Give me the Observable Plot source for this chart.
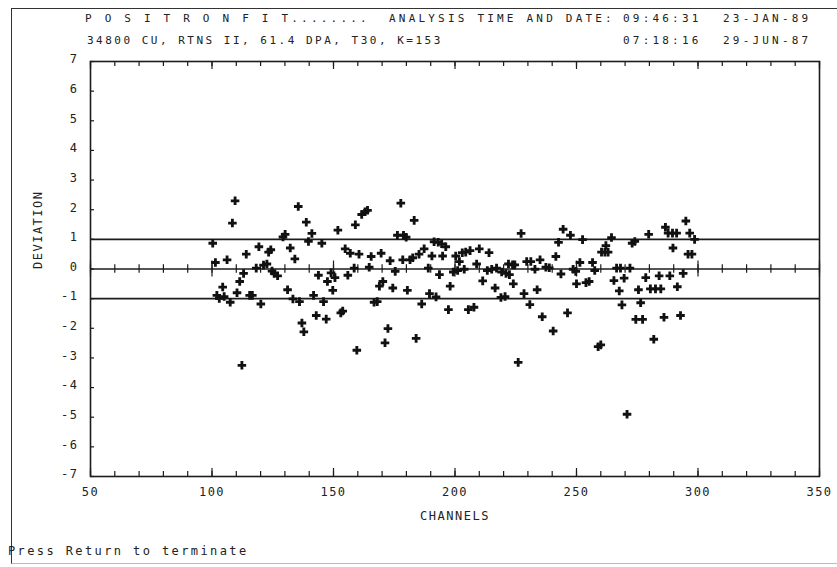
<!DOCTYPE html>
<html><head><meta charset="utf-8">
<script src="https://cdn.jsdelivr.net/npm/d3@7"></script>
<script src="https://cdn.jsdelivr.net/npm/@observablehq/plot@0.6"></script>
<style>
html,body{margin:0;padding:0;background:#fff;}
#wrap{position:relative;width:837px;height:567px;overflow:hidden;background:#fff;font-family:"DejaVu Sans Mono",monospace;color:#222;}
#box{position:absolute;left:11px;top:8px;width:860px;height:554px;border-left:1.5px solid #333;border-top:1.5px solid #333;border-bottom:1px solid #bbb;}
.t{position:absolute;font-size:11px;letter-spacing:3.2px;white-space:pre;line-height:1;}
#chart{position:absolute;left:0;top:0;}
</style></head><body>
<div id="wrap"><div id="box"></div><div id="chart"></div></div>
<script>
// ---- data ----
const channels = [
100.3,101.4,102.0,103.0,104.4,105.0,106.2,107.5,108.4,109.5,110.3,111.4,112.3,113.0,114.1,115.5,116.6,118.2,119.3,120.1,
121.2,122.6,123.3,124.2,124.7,125.6,127.0,129.2,130.1,131.1,132.2,133.3,134.1,135.5,136.0,137.0,137.8,138.8,139.7,141.1,
141.8,142.9,143.8,145.2,145.9,147.0,147.5,149.0,149.7,150.6,151.8,153.0,153.8,154.8,155.9,156.9,158.5,159.0,159.6,160.5,
161.6,163.0,164.0,164.7,165.5,166.7,168.0,168.9,169.6,170.3,171.2,172.4,173.3,174.4,175.4,176.3,177.7,178.5,178.8,179.9,
180.4,181.5,182.6,183.2,184.0,185.2,186.3,187.3,189.0,189.5,190.5,191.4,192.2,193.1,193.6,194.5,194.9,196.2,197.3,198.0,
199.3,200.3,201.1,201.8,203.0,203.8,204.4,205.5,206.2,207.8,208.9,210.0,211.4,213.3,214.0,215.1,216.5,217.1,218.9,219.2,
220.6,221.0,222.0,222.4,223.7,224.6,224.0,227.2,226.0,228.4,229.5,231.2,230.8,232.9,233.8,235.0,235.9,237.4,238.8,240.4,
241.5,242.6,243.6,244.5,246.3,247.5,248.6,249.7,250.0,251.4,252.5,253.9,255.2,256.6,257.5,258.9,260.0,260.3,261.7,263.0,
262.1,264.4,265.4,266.5,267.6,268.1,268.7,269.6,270.8,272.0,272.9,274.0,274.4,275.5,276.4,277.2,278.5,279.7,280.4,281.8,
282.5,284.0,284.7,286.0,286.6,287.7,288.4,289.5,289.7,291.2,291.5,292.8,293.9,295.0,295.9,296.6,297.5,298.6
];
const deviations = [
0.87,0.22,-0.89,-0.99,-0.61,-0.93,0.31,-1.12,1.55,2.30,-0.80,-0.42,-3.25,-0.15,0.50,-0.89,-0.89,0.03,0.75,-1.18,
0.13,0.17,0.57,0.65,-0.07,-0.15,-0.23,1.08,1.17,-0.70,0.71,-1.01,0.34,2.11,-1.10,-1.82,-2.12,1.58,0.93,1.20,
-0.89,-1.57,-0.21,0.87,-1.10,-1.69,-0.42,-0.13,-0.72,-0.29,1.31,-1.48,-1.42,0.68,-0.21,0.53,0.03,1.49,-2.74,0.50,
1.84,1.93,1.98,0.06,0.42,-1.12,-1.10,-0.58,0.53,-0.42,-2.49,-2.01,0.28,-0.64,-0.08,1.14,2.22,0.31,1.14,1.07,
-0.72,0.31,0.38,1.64,-2.34,0.50,-1.18,0.68,0.03,-0.83,0.44,0.92,-0.94,0.90,-0.19,0.85,0.44,0.75,-1.37,-0.58,
-0.10,0.44,-0.05,0.25,0.55,-0.01,0.57,-1.37,0.62,-1.29,0.17,0.68,-0.40,-0.05,0.55,-0.01,-0.64,0.03,-0.96,-0.10,
-0.93,-0.15,0.17,-0.19,0.14,0.14,-0.50,1.20,-3.15,-0.83,0.25,0.25,-1.20,-0.01,-0.70,0.31,-1.61,0.06,0.04,-2.09,
0.42,0.90,-0.17,1.34,-1.48,1.14,-0.01,-0.08,-0.50,0.22,0.99,-0.46,-0.42,0.22,-0.05,-2.62,-2.56,0.57,0.57,0.57,
0.79,1.06,-0.39,0.03,-0.74,0.03,-1.21,-0.31,-4.90,0.03,0.87,0.93,-1.70,-0.70,-1.14,-1.70,-0.29,1.17,-0.67,-2.37,
-0.67,-0.23,-0.67,-1.63,1.41,1.21,-0.23,1.21,0.71,1.21,-0.60,-1.57,-0.15,1.62,0.50,1.21,0.50,1.00
];
const xDomain = [50, 350];
const yDomain = [-7, 7];
const xTickLabels = [50, 100, 150, 200, 250, 300, 350];
const xMinorTicks = [50,60,70,80,90,100,110,120,130,140,150,160,170,180,190,200,210,220,230,240,250,260,270,280,290,300,310,320,330,340,350];
const yTickLabels = [-7,-6,-5,-4,-3,-2,-1,0,1,2,3,4,5,6,7];
const refLines = [1, 0, -1];
const header1 = ["P O S I T R O N F I T........", "ANALYSIS TIME AND DATE:", "09:46:31", "23-JAN-89"];
const header2 = ["34800 CU, RTNS II, 61.4 DPA, T30, K=153", "07:18:16", "29-JUN-87"];
const footer = "Press Return to terminate";
const xLabel = "CHANNELS";
const yLabel = "DEVIATION";

// ---- layout ----
const W = 837, H = 567, mL = 90, mR = 18, mT = 61, mB = 91;
const fh = H - mT - mB, fw = W - mL - mR;
const ink = "#1c1c1c";
const points = channels.map((c, i) => ({ch: c, dev: deviations[i]}));

const chart = Plot.plot({
  width: W, height: H,
  marginLeft: mL, marginRight: mR, marginTop: mT, marginBottom: mB,
  style: {fontFamily: "'DejaVu Sans Mono', monospace", fontSize: "12px", color: "#222", background: "transparent", letterSpacing: "1.5px"},
  x: {domain: xDomain},
  y: {domain: yDomain},
  marks: [
    Plot.ruleY(refLines, {stroke: ink, strokeWidth: 1.6}),
    // top frame ticks
    Plot.tickX(xMinorTicks, {x: d => d, insetBottom: fh - 5, stroke: ink, strokeWidth: 1.2}),
    Plot.tickX(xTickLabels, {x: d => d, insetBottom: fh - 8, stroke: ink, strokeWidth: 1.2}),
    // bottom frame ticks
    Plot.tickX(xMinorTicks, {x: d => d, insetTop: fh - 5, stroke: ink, strokeWidth: 1.2}),
    Plot.tickX(xTickLabels, {x: d => d, insetTop: fh - 8, stroke: ink, strokeWidth: 1.2}),
    // ticks on zero line
    Plot.ruleX(xMinorTicks, {x: d => d, y1: -0.14, y2: 0.14, stroke: ink, strokeWidth: 1.2}),
    Plot.ruleX(xTickLabels, {x: d => d, y1: -0.27, y2: 0.27, stroke: ink, strokeWidth: 1.2}),
    // left frame ticks
    Plot.tickY(yTickLabels, {y: d => d, insetRight: fw - 4, stroke: ink, strokeWidth: 1.2}),
    Plot.frame({stroke: ink, strokeWidth: 1.6}),
    Plot.axisX(xTickLabels, {tickSize: 0, tickPadding: 11, label: null, fill: "#222"}),
    Plot.axisY(yTickLabels, {tickSize: 0, tickPadding: 12, label: null, dy: -2, tickFormat: d => String(d), fill: "#222"}),
    Plot.text([xLabel], {frameAnchor: "bottom", dy: 43, fill: "#222"}),
    Plot.text([yLabel], {frameAnchor: "left", rotate: -90, dx: -52, fill: "#222"}),
    Plot.dot(points, {x: "ch", y: "dev", symbol: "cross", r: 3.6, fill: "#111", stroke: "none"})
  ]
});
document.getElementById("chart").appendChild(chart);

// ---- header / footer text ----
const wrap = document.getElementById("wrap");
function addText(str, left, top, extra) {
  const d = document.createElement("div");
  d.className = "t";
  d.textContent = str;
  d.style.left = left + "px";
  d.style.top = top + "px";
  if (extra) Object.assign(d.style, extra);
  wrap.appendChild(d);
}
addText(header1[0], 85, 13);
addText(header1[1], 389, 13);
addText(header1[2], 623, 13);
addText(header1[3], 723, 13);
addText(header2[0], 87, 35, {letterSpacing: "2.5px"});
addText(header2[1], 623, 35);
addText(header2[2], 723, 35);
addText(footer, 8, 545, {fontSize: "12px", letterSpacing: "2.4px"});
</script>
</body></html>
